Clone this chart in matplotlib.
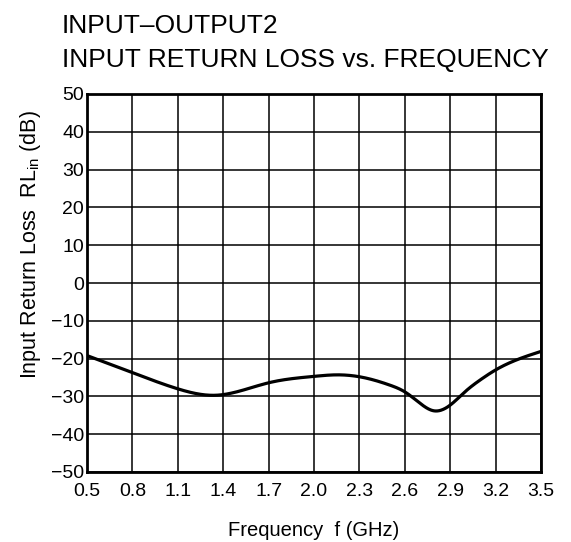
import matplotlib
matplotlib.use("Agg")
import matplotlib.pyplot as plt
import numpy as np

freq = [0.5, 0.8, 1.1, 1.35, 1.7, 2.0, 2.15, 2.3, 2.5, 2.6, 2.7, 2.79, 2.9, 3.0, 3.1, 3.2, 3.5]
rl = [-19.2, -23.7, -28.0, -29.7, -26.4, -24.7, -24.3, -24.8, -27.0, -28.8, -31.8, -33.8, -32.3, -28.7, -25.6, -23.0, -18.1]
xticks = [0.5, 0.8, 1.1, 1.4, 1.7, 2.0, 2.3, 2.6, 2.9, 3.2, 3.5]
yticks = [-50, -40, -30, -20, -10, 0, 10, 20, 30, 40, 50]

plt.rcParams['font.family'] = ['Liberation Sans', 'DejaVu Sans']
plt.rcParams['mathtext.fontset'] = 'custom'
plt.rcParams['mathtext.rm'] = 'Liberation Sans'
plt.rcParams['mathtext.it'] = 'Liberation Sans'


def natural_spline(x, y, n=800):
    x = np.asarray(x, float); y = np.asarray(y, float)
    m = len(x)
    h = np.diff(x)
    A = np.zeros((m, m)); b = np.zeros(m)
    A[0, 0] = 1; A[-1, -1] = 1
    for i in range(1, m - 1):
        A[i, i - 1] = h[i - 1]
        A[i, i] = 2 * (h[i - 1] + h[i])
        A[i, i + 1] = h[i]
        b[i] = 6 * ((y[i + 1] - y[i]) / h[i] - (y[i] - y[i - 1]) / h[i - 1])
    M = np.linalg.solve(A, b)
    xs = np.linspace(x[0], x[-1], n)
    idx = np.clip(np.searchsorted(x, xs) - 1, 0, m - 2)
    x0 = x[idx]; x1 = x[idx + 1]; hh = x1 - x0
    t0 = x1 - xs; t1 = xs - x0
    ys = (M[idx] * t0**3 / (6 * hh) + M[idx + 1] * t1**3 / (6 * hh)
          + (y[idx] / hh - M[idx] * hh / 6) * t0 + (y[idx + 1] / hh - M[idx + 1] * hh / 6) * t1)
    return xs, ys


fig = plt.figure(figsize=(5.71, 5.42), dpi=100)
ax = fig.add_axes([87/571, 1-472/542, (541-87)/571, (472-94)/542])

cx, cy = natural_spline(freq, rl)
ax.plot(cx, cy, color='black', lw=2.3, solid_capstyle='round', zorder=3)

ax.set_xlim(0.5, 3.5)
ax.set_ylim(-50, 50)
ax.set_xticks(xticks)
ax.set_xticklabels([f"{v:.1f}" for v in xticks])
ax.set_yticks(yticks)
ax.set_yticklabels([str(v).replace('-', '\u2212') for v in yticks])
ax.grid(True, color='black', lw=1.1)
ax.tick_params(axis='both', length=0, labelsize=14)
ax.tick_params(axis='x', pad=8)
ax.tick_params(axis='y', pad=2)
for s in ax.spines.values():
    s.set_linewidth(2.0)
    s.set_color('black')

fig.text(314/571, 1-536/542, 'Frequency  f (GHz)', fontsize=14.5, ha='center', va='baseline')
fig.text(31/571, 1-245/542, r'Input Return Loss  RL$_{\rm in}$ (dB)', fontsize=15.5,
         rotation=90, ha='center', va='center')

fig.text(62/571, 1-33/542, 'INPUT\u2013OUTPUT2', fontsize=19, ha='left', va='baseline')
fig.text(62/571, 1-67/542, 'INPUT RETURN LOSS vs. FREQUENCY', fontsize=19, ha='left', va='baseline')

fig.savefig('out.png', dpi=100)
